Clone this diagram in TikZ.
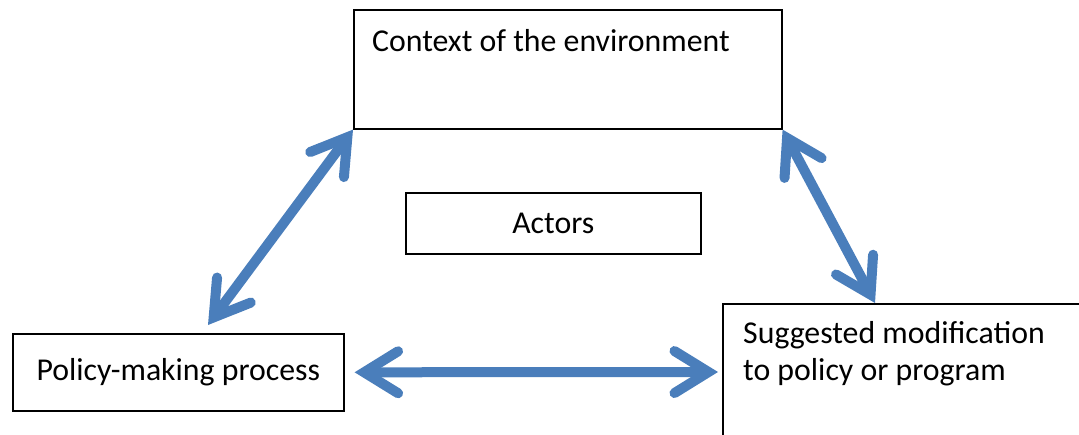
\documentclass[tikz,border=0pt]{standalone}
\usepackage{fontspec}
\setmainfont{Carlito}
\usetikzlibrary{arrows.meta}
\definecolor{linkblue}{RGB}{74,126,187}
\begin{document}
\begin{tikzpicture}[x=1pt, y=-1pt, font=\fontsize{31.8}{37}\selectfont,
    box/.style={draw, line width=1.6pt, anchor=north west, inner sep=0pt},
    txt/.style={anchor=base west, inner sep=0pt, align=left},
    barb/.tip={Straight Barb[length=34pt, width=42pt, line width=10pt, line cap=round, line join=miter]},
    link/.style={draw=linkblue, line width=10pt, {barb}-{barb}}]
  \useasboundingbox (0,0) rectangle (1079,434);
  \clip (0,0) rectangle (1079,434);
  % boxes
  \node[box, minimum width=428pt, minimum height=119pt] (ctx) at (353,9) {};
  \node[box, minimum width=295pt, minimum height=61pt] (actors) at (405,192) {Actors};
  \node[box, minimum width=331pt, minimum height=77pt] (policy) at (12,333) {Policy-making process};
  \node[box, minimum width=380pt, minimum height=160pt] (sugg) at (722,303) {};
  \node[txt] (ctxtext) at ([shift={(19,42)}]ctx.north west) {Context of the environment};
  \node[txt] (suggtext) at ([shift={(21,77)}]sugg.north west) {Suggested modification\\to policy or program};
  % arrow ends
  \coordinate (pmtop) at ([shift={(196,-8)}]policy.north west);
  \coordinate (pmright) at ([shift={(10,0)}]policy.east);
  \coordinate (sgtop) at ([shift={(153,0)}]sugg.north west);
  \coordinate (sgleft) at ([shift={(-4,69)}]sugg.north west);
  \foreach \a/\b in {ctx.south west/pmtop, ctx.south east/sgtop, pmright/sgleft}
    \draw[link] (\a) -- (\b);
\end{tikzpicture}
\end{document}
